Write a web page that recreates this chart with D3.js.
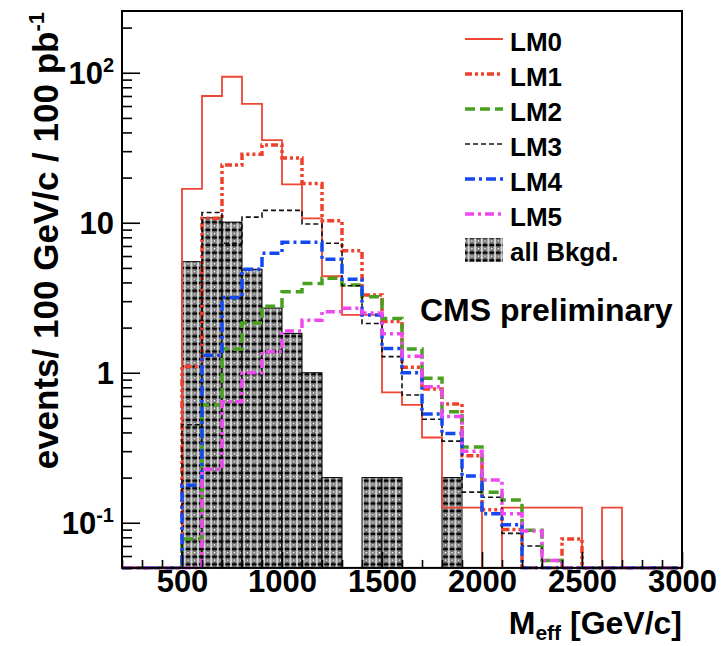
<!DOCTYPE html>
<html>
<head>
<meta charset="utf-8">
<script src="https://cdn.jsdelivr.net/npm/d3@7/dist/d3.min.js"></script>
<style>
body { margin: 0; background: #fff; }
text { font-family: "Liberation Sans", Arial, Helvetica, sans-serif; font-weight: bold; fill: #000; }
</style>
</head>
<body>
<div id="chart"></div>
<script>
// bin edges of M_eff histograms (GeV/c), 100 GeV wide
var binEdges = [200,300,400,500,600,700,800,900,1000,1100,1200,1300,1400,1500,1600,1700,
                1800,1900,2000,2100,2200,2300,2400,2500,2600,2700,2800,2900,3000];

// events / 100 GeV/c / 100 pb^-1, one value per bin (0 = empty bin)
var lm0 = [0,0,0,16.8,70,94,62,35.6,18,10.7,4.4,2.43,2.43,0.74,0.61,0.37,0.126,0.126,0,0.126,0.126,0.126,0.126,0,0.126,0,0,0];
var lm1 = [0,0,0,1.1,10.7,24.3,28.6,33,27,18.3,10.3,6.5,3.3,2.2,1.09,0.78,0.62,0.28,0.122,0.09,0,0,0.078,0,0,0,0,0];
var lm2 = [0,0,0,0.078,0.61,1.44,2.15,2.78,3.47,3.94,4.26,3.84,3.21,2.3,1.44,0.92,0.55,0.32,0.16,0.142,0.089,0.056,0,0,0,0,0,0];
var lm3 = [0,0,0,0.45,11.7,7.3,10.9,12.1,12.1,9.8,7.3,3.8,2.13,1.28,0.71,0.49,0.35,0.16,0.148,0.085,0.07,0,0,0,0,0,0,0];
var lm4 = [0,0,0,0.178,1.31,3.18,4.9,6.25,7.4,7.4,5.7,4.2,2.43,1.45,1.0,0.53,0.394,0.205,0.115,0.097,0,0,0,0,0,0,0,0];
var lm5 = [0,0,0,0,0.227,0.64,1.0,1.38,1.9,2.24,2.55,2.69,2.5,1.82,1.29,0.806,0.51,0.3,0.193,0.115,0.088,0.056,0,0,0,0,0,0];
var bkgd = [0,0,0,5.5,10.8,10.1,4.9,2.7,1.83,1.0,0.2,0,0.2,0.2,0,0,0.2,0,0,0,0,0,0,0,0,0,0,0];

var xTicks = [500,1000,1500,2000,2500,3000];
var yTicks = [0.1,1,10,100];
var yTickBase = ["10","1","10","10"];
var yTickExp = ["-1","","","2"];

var signals = [
	{name: "LM0", values: lm0, color: "#ef4535", width: 1.8, dash: null},
	{name: "LM1", values: lm1, color: "#f0402c", width: 3.5, dash: "7,3,3,3,3,3"},
	{name: "LM2", values: lm2, color: "#48a020", width: 3.5, dash: "10,5"},
	{name: "LM3", values: lm3, color: "#111111", width: 1.6, dash: "5,3"},
	{name: "LM4", values: lm4, color: "#1448f0", width: 3.5, dash: "10,4,3,4"},
	{name: "LM5", values: lm5, color: "#ee48ee", width: 3.5, dash: "9,4,3,4"}
];

var width = 724, height = 646;
var frame = {left: 122, right: 682, top: 11, bottom: 567.9};

var x = d3.scaleLinear().domain([200, 3000]).range([frame.left, frame.right]);
var y = d3.scaleLog().domain([0.05, 258]).range([frame.bottom, frame.top]);

var svg = d3.select('#chart').append('svg')
	.attr('width', width)
	.attr('height', height);

var defs = svg.append('defs');
defs.append('clipPath').attr('id', 'frameClip')
	.append('rect')
	.attr('x', frame.left)
	.attr('y', frame.top)
	.attr('width', frame.right - frame.left)
	.attr('height', frame.bottom - frame.top + 1.6);

//hatch used by ROOT for the background stack
var hatch = defs.append('pattern')
	.attr('id', 'bkgHatch')
	.attr('patternUnits', 'userSpaceOnUse')
	.attr('width', 6.6)
	.attr('height', 7.6);
hatch.append('rect').attr('width', 6.6).attr('height', 7.6).attr('fill', '#d8d8d8');
hatch.append('rect').attr('x', 0.8).attr('y', 0.4).attr('width', 5).attr('height', 3).attr('fill', '#000');
hatch.append('circle').attr('cx', 3.3).attr('cy', 5.5).attr('r', 1.6)
	.attr('fill', '#fff').attr('stroke', '#666').attr('stroke-width', 1.4);

function yOf(v){
	return v > 0 ? y(v) : frame.bottom;
}

function stepPath(values){
	var pts = [];
	values.forEach(function(v, i){
		pts.push([x(binEdges[i]), yOf(v)]);
		pts.push([x(binEdges[i + 1]), yOf(v)]);
	});
	return d3.line()(pts);
}

var plot = svg.append('g').attr('clip-path', 'url(#frameClip)');

// background blocks
plot.selectAll('.bkg')
	.data(bkgd.map(function(v, i){ return {v: v, i: i}; }).filter(function(d){ return d.v > 0; }))
	.enter().append('rect')
	.attr('class', 'bkg')
	.attr('x', function(d){ return x(binEdges[d.i]); })
	.attr('width', function(d){ return x(binEdges[d.i + 1]) - x(binEdges[d.i]); })
	.attr('y', function(d){ return y(d.v); })
	.attr('height', function(d){ return frame.bottom - y(d.v); })
	.attr('fill', 'url(#bkgHatch)')
	.attr('stroke', '#000')
	.attr('stroke-width', 1);

plot.selectAll('.sig')
	.data(signals)
	.enter().append('path')
	.attr('class', 'sig')
	.attr('d', function(d){ return stepPath(d.values); })
	.attr('fill', 'none')
	.attr('stroke', function(d){ return d.color; })
	.attr('stroke-width', function(d){ return d.width; })
	.attr('stroke-dasharray', function(d){ return d.dash; });

// axes, ticks point into the frame
var xMinor = binEdges.filter(function(e){ return xTicks.indexOf(e) < 0; });
svg.append('g')
	.attr('transform', 'translate(0,' + frame.bottom + ')')
	.call(d3.axisBottom(x).tickValues(xMinor).tickSize(-8).tickSizeOuter(0).tickFormat(''))
	.call(function(g){ g.select('.domain').remove(); g.selectAll('line').attr('stroke-width', 1.6); });
var xAxis = svg.append('g')
	.attr('transform', 'translate(0,' + frame.bottom + ')')
	.call(d3.axisBottom(x).tickValues(xTicks).tickSize(-16).tickSizeOuter(0).tickPadding(0).tickFormat(d3.format('d')));
xAxis.select('.domain').remove();
xAxis.selectAll('line').attr('stroke-width', 1.6);
xAxis.selectAll('text')
	.attr('y', 24.5)
	.attr('dy', 0)
	.style('font-size', '31px');

var yMinor = y.ticks().filter(function(t){ return yTicks.indexOf(t) < 0; });
svg.append('g')
	.attr('transform', 'translate(' + frame.left + ',0)')
	.call(d3.axisLeft(y).tickValues(yMinor).tickSize(-10).tickSizeOuter(0).tickFormat(''))
	.call(function(g){ g.select('.domain').remove(); g.selectAll('line').attr('stroke-width', 1.6); });
svg.append('g')
	.attr('transform', 'translate(' + frame.left + ',0)')
	.call(d3.axisLeft(y).tickValues(yTicks).tickSize(-18).tickSizeOuter(0).tickFormat(''))
	.call(function(g){ g.select('.domain').remove(); g.selectAll('line').attr('stroke-width', 1.6); });

var yLab = svg.append('g').selectAll('text')
	.data(yTicks)
	.enter().append('text')
	.attr('x', 114)
	.attr('y', function(d){ return y(d) + 11; })
	.attr('text-anchor', 'end')
	.style('font-size', '31px');
yLab.append('tspan').text(function(d, i){ return yTickBase[i]; });
yLab.append('tspan')
	.attr('dy', -12)
	.style('font-size', '20px')
	.text(function(d, i){ return yTickExp[i]; });

svg.append('rect')
	.attr('x', frame.left)
	.attr('y', frame.top)
	.attr('width', frame.right - frame.left)
	.attr('height', frame.bottom - frame.top)
	.attr('fill', 'none')
	.attr('stroke', '#000')
	.attr('stroke-width', 2);

// axis titles
var xTitle = svg.append('text')
	.attr('x', frame.right)
	.attr('y', 634)
	.attr('text-anchor', 'end')
	.style('font-size', '32px');
xTitle.append('tspan').text('M');
xTitle.append('tspan').attr('dy', 6).style('font-size', '21px').text('eff');
xTitle.append('tspan').attr('dy', -6).text(' [GeV/c]');

var yTitle = svg.append('text')
	.attr('transform', 'translate(58,12) rotate(-90)')
	.attr('text-anchor', 'end')
	.style('font-size', '35px');
yTitle.append('tspan').text('events/ 100 GeV/c / 100 pb');
yTitle.append('tspan').attr('dy', -14).style('font-size', '22px').text('-1');

// legend
var legend = svg.append('g');
var rows = legend.selectAll('.row')
	.data(signals)
	.enter().append('g')
	.attr('class', 'row')
	.attr('transform', function(d, i){ return 'translate(0,' + (39 + 35 * i) + ')'; });
rows.append('line')
	.attr('x1', 465).attr('x2', 503)
	.attr('stroke', function(d){ return d.color; })
	.attr('stroke-width', function(d){ return d.width; })
	.attr('stroke-dasharray', function(d){ return d.dash; });
rows.append('text')
	.attr('x', 510)
	.attr('y', 12)
	.style('font-size', '26px')
	.text(function(d){ return d.name; });

legend.append('rect')
	.attr('x', 465).attr('y', 238)
	.attr('width', 38).attr('height', 24)
	.attr('fill', 'url(#bkgHatch)');
legend.append('text')
	.attr('x', 510)
	.attr('y', 261)
	.style('font-size', '26px')
	.text('all Bkgd.');

svg.append('text')
	.attr('x', 420)
	.attr('y', 321)
	.style('font-size', '32px')
	.text('CMS preliminary');
</script>
</body>
</html>
